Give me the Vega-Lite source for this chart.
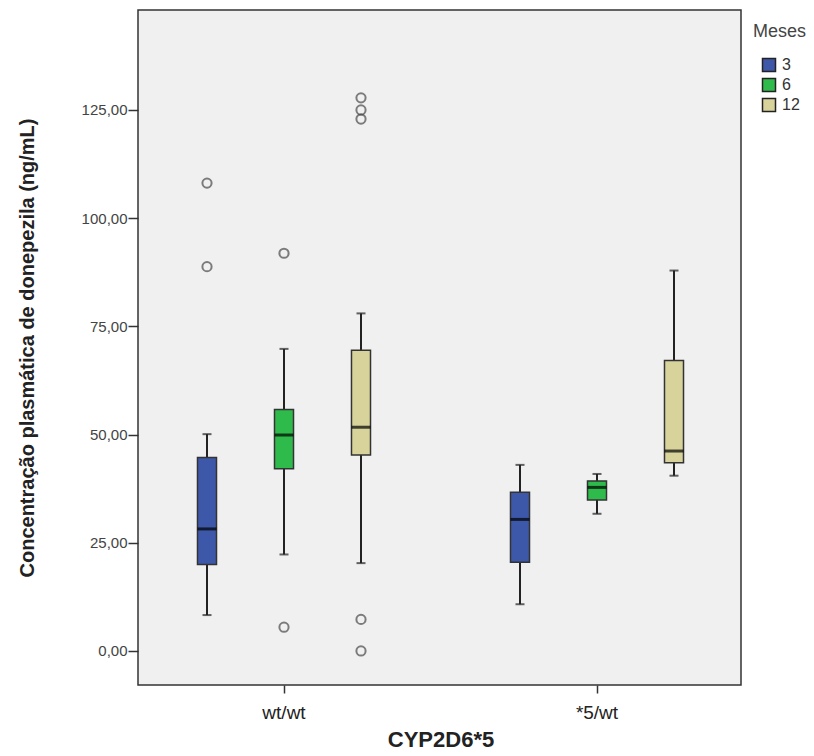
{
  "$schema": "https://vega.github.io/schema/vega-lite/v6.json",
  "autosize": "none",
  "width": 603,
  "height": 675,
  "padding": {"left": 138, "top": 10, "right": 73, "bottom": 71},
  "background": "white",
  "config": {
    "font": "Liberation Sans",
    "view": {"fill": "#f0f0f0", "stroke": "#333333", "strokeWidth": 1.5}
  },
  "datasets": {
    "boxes": [
      {"genotipo": "wt/wt", "meses": "3", "min": 8.3, "q1": 20.0, "median": 28.2, "q3": 44.7, "max": 50.1},
      {"genotipo": "wt/wt", "meses": "6", "min": 22.3, "q1": 42.1, "median": 49.9, "q3": 55.8, "max": 69.8},
      {"genotipo": "wt/wt", "meses": "12", "min": 20.3, "q1": 45.3, "median": 51.7, "q3": 69.5, "max": 78.0},
      {"genotipo": "*5/wt", "meses": "3", "min": 10.8, "q1": 20.5, "median": 30.4, "q3": 36.7, "max": 43.0},
      {"genotipo": "*5/wt", "meses": "6", "min": 31.7, "q1": 34.9, "median": 37.8, "q3": 39.3, "max": 40.9},
      {"genotipo": "*5/wt", "meses": "12", "min": 40.5, "q1": 43.5, "median": 46.2, "q3": 67.1, "max": 87.9}
    ],
    "outliers": [
      {"genotipo": "wt/wt", "meses": "3", "valor": 108.1},
      {"genotipo": "wt/wt", "meses": "3", "valor": 88.8},
      {"genotipo": "wt/wt", "meses": "6", "valor": 91.9},
      {"genotipo": "wt/wt", "meses": "6", "valor": 5.5},
      {"genotipo": "wt/wt", "meses": "12", "valor": 127.8},
      {"genotipo": "wt/wt", "meses": "12", "valor": 125.0},
      {"genotipo": "wt/wt", "meses": "12", "valor": 122.9},
      {"genotipo": "wt/wt", "meses": "12", "valor": 7.3},
      {"genotipo": "wt/wt", "meses": "12", "valor": 0.0}
    ]
  },
  "encoding": {
    "x": {
      "field": "genotipo", "type": "nominal", "sort": ["wt/wt", "*5/wt"],
      "scale": {"range": [-10.5, 615.5], "paddingInner": 0, "paddingOuter": 0},
      "axis": {
        "title": "CYP2D6*5", "titleFontSize": 22, "titleFontWeight": "bold", "titleColor": "#222222",
        "titlePadding": 7, "labelAngle": 0, "labelFontSize": 19, "labelColor": "#222222",
        "labelPadding": 10, "tickSize": 8, "tickColor": "#333333", "tickWidth": 1.5, "domain": false
      }
    },
    "xOffset": {
      "field": "meses", "type": "nominal", "sort": ["3", "6", "12"],
      "scale": {"paddingInner": 0.753, "paddingOuter": 0.909}
    }
  },
  "layer": [
    {
      "data": {"name": "boxes"},
      "mark": {"type": "rule", "color": "#222222", "strokeWidth": 2},
      "encoding": {
        "y": {
          "field": "min", "type": "quantitative",
          "scale": {"domain": [-7.86, 148.1], "nice": false, "zero": false},
          "axis": {
            "title": "Concentração plasmática de donepezila  (ng/mL)",
            "titleFontSize": 20, "titleFontWeight": "bold", "titleColor": "#222222",
            "titlePadding": 44, "values": [0, 25, 50, 75, 100, 125],
            "labelExpr": "replace(format(datum.value, '.2f'), '.', ',')",
            "labelFontSize": 15, "labelColor": "#444444", "labelPadding": 1,
            "tickSize": 10, "tickColor": "#333333", "tickWidth": 1.5,
            "grid": false, "domain": false
          }
        },
        "y2": {"field": "max"}
      }
    },
    {
      "data": {"name": "boxes"},
      "mark": {"type": "tick", "color": "#222222", "size": 9, "thickness": 2},
      "encoding": {"y": {"field": "min", "type": "quantitative"}}
    },
    {
      "data": {"name": "boxes"},
      "mark": {"type": "tick", "color": "#222222", "size": 9, "thickness": 2},
      "encoding": {"y": {"field": "max", "type": "quantitative"}}
    },
    {
      "data": {"name": "boxes"},
      "mark": {"type": "bar", "stroke": "#333333", "strokeWidth": 1.5},
      "encoding": {
        "y": {"field": "q1", "type": "quantitative"},
        "y2": {"field": "q3"},
        "color": {
          "field": "meses", "type": "nominal", "sort": ["3", "6", "12"],
          "scale": {"domain": ["3", "6", "12"], "range": ["#3d58a9", "#2fbb4c", "#d7d39b"]},
          "legend": {
            "title": "Meses", "orient": "none", "legendX": 615, "legendY": 13,
            "titleFontSize": 18, "titleFontWeight": "normal", "titleColor": "#444444",
            "labelFontSize": 16, "labelColor": "#333333",
            "symbolType": "square", "symbolSize": 169, "symbolStrokeColor": "#222222",
            "symbolStrokeWidth": 1.5, "symbolOffset": 8, "rowPadding": 0, "titlePadding": 16, "labelOffset": 5,
            "padding": 0
          }
        }
      }
    },
    {
      "data": {"name": "boxes"},
      "mark": {"type": "tick", "color": "#000000", "size": 19, "thickness": 3},
      "encoding": {"y": {"field": "median", "type": "quantitative"}}
    },
    {
      "data": {"name": "outliers"},
      "mark": {"type": "point", "shape": "circle", "filled": false, "size": 85, "stroke": "#4a4a4a", "strokeWidth": 2},
      "encoding": {"y": {"field": "valor", "type": "quantitative"}}
    }
  ]
}
